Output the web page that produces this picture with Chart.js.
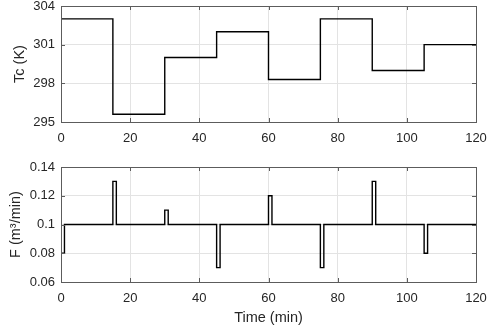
<!DOCTYPE html>
<html>
<head>
<meta charset="utf-8">
<script src="https://cdn.jsdelivr.net/npm/chart.js@4"></script>
<style>
  body { margin: 0; background: #fff; }
  .wrap { position: absolute; left: 0; width: 491px; }
</style>
</head>
<body>
<div class="wrap" style="top:0;height:145px"><canvas id="tcChart" width="491" height="145"></canvas></div>
<div class="wrap" style="top:145px;height:184px"><canvas id="fChart" width="491" height="184"></canvas></div>
<script>
// coolant temperature steps (value holds until next time)
const tcTime = [0, 15, 30, 45, 60, 75, 90, 105, 120];
const tcValues = [303, 295.6, 300, 302, 298.3, 303, 299, 301, 301];

// feed flow pulses
const fTime = [0, 1, 15, 16, 30, 31, 45, 46, 60, 61, 75, 76, 90, 91, 105, 106, 120];
const fValues = [0.08, 0.1, 0.13, 0.1, 0.11, 0.1, 0.07, 0.1, 0.12, 0.1, 0.07, 0.1, 0.13, 0.1, 0.08, 0.1, 0.1];

const timeTicks = [0, 20, 40, 60, 80, 100, 120];
const tcTicks = [295, 298, 301, 304];
const fTicks = [0.06, 0.08, 0.1, 0.12, 0.14];

Chart.defaults.font.family = '"Liberation Sans", Arial, sans-serif';
Chart.defaults.color = '#262626';

// matlab style box + inward ticks
const boxPlugin = {
    id: 'box',
    afterDatasetsDraw(chart) {
        const { ctx, chartArea: a, scales } = chart;
        ctx.save();
        ctx.strokeStyle = '#5c5c5c';
        ctx.lineWidth = 1;
        ctx.beginPath();
        scales.x.ticks.forEach(t => {
            let px = Math.round(scales.x.getPixelForValue(t.value)) + 0.5;
            ctx.moveTo(px, a.bottom); ctx.lineTo(px, a.bottom - 4);
            ctx.moveTo(px, a.top); ctx.lineTo(px, a.top + 4);
        });
        scales.y.ticks.forEach(t => {
            let py = Math.round(scales.y.getPixelForValue(t.value)) + 0.5;
            ctx.moveTo(a.left, py); ctx.lineTo(a.left + 4, py);
            ctx.moveTo(a.right, py); ctx.lineTo(a.right - 4, py);
        });
        ctx.stroke();
        ctx.strokeRect(Math.round(a.left) + 0.5, Math.round(a.top) + 0.5,
            Math.round(a.right - a.left), Math.round(a.bottom - a.top));
        ctx.restore();
    }
};

function makeChart(id, times, values, yMin, yMax, yTicks, yTitle, opts) {
    return new Chart(document.getElementById(id), {
        type: 'line',
        data: {
            datasets: [{
                data: times.map((t, i) => ({ x: t, y: values[i] })),
                stepped: 'before',
                borderColor: '#000',
                borderWidth: 1.4,
                pointRadius: 0,
                fill: false
            }]
        },
        options: {
            responsive: false,
            devicePixelRatio: 1,
            animation: false,
            layout: { padding: { top: opts.top, right: 15, left: 0, bottom: 0 } },
            scales: {
                x: {
                    type: 'linear',
                    min: 0,
                    max: 120,
                    afterBuildTicks: s => { s.ticks = timeTicks.map(v => ({ value: v })); },
                    afterFit: s => {
                        s.height = opts.xHeight;
                        s.paddingLeft = 0;
                        s.paddingRight = 0;
                    },
                    grid: { color: '#e3e3e3', drawTicks: false },
                    border: { display: false },
                    ticks: { padding: 9, font: { size: 13 }, maxRotation: 0 },
                    title: {
                        display: opts.xTitle,
                        text: 'Time (min)',
                        font: { size: 14.5 },
                        padding: { top: 0, bottom: 2 }
                    }
                },
                y: {
                    min: yMin,
                    max: yMax,
                    afterBuildTicks: s => { s.ticks = yTicks.map(v => ({ value: v })); },
                    afterFit: s => {
                        s.width = 61;
                        s.paddingTop = 0;
                        s.paddingBottom = 0;
                    },
                    grid: { color: '#e3e3e3', drawTicks: false },
                    border: { display: false },
                    ticks: {
                        padding: 6,
                        font: { size: 13 },
                        callback: v => String(parseFloat(v.toFixed(2)))
                    },
                    title: {
                        display: true,
                        text: yTitle,
                        font: { size: 14.5 },
                        padding: { top: opts.yTitlePad, bottom: 0 }
                    }
                }
            },
            plugins: {
                legend: { display: false },
                tooltip: { enabled: false }
            }
        },
        plugins: [boxPlugin]
    });
}

makeChart('tcChart', tcTime, tcValues, 295, 304, tcTicks, 'Tc (K)',
    { top: 6, xHeight: 23, xTitle: false, yTitlePad: 11 });
makeChart('fChart', fTime, fValues, 0.06, 0.14, fTicks, 'F (m³/min)',
    { top: 22, xHeight: 47, xTitle: true, yTitlePad: 7 });
</script>
</body>
</html>
